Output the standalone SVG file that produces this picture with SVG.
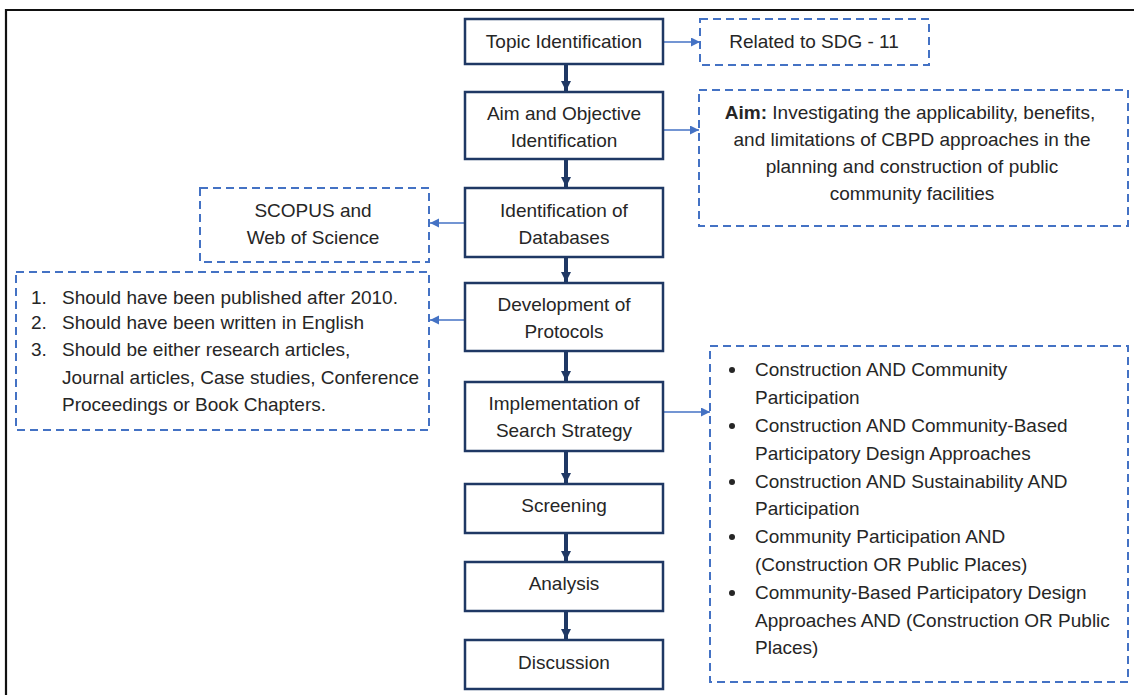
<svg xmlns="http://www.w3.org/2000/svg" width="1134" height="695" viewBox="0 0 1134 695">
<style>
.frame{fill:none;stroke:#111;stroke-width:2.2}
.main{fill:#fff;stroke:#1F3864;stroke-width:2.5}
.dash{fill:#fff;stroke:#4472C4;stroke-width:2;stroke-dasharray:8 5}
.t{font-family:"Liberation Sans",Arial,sans-serif;font-size:19px;fill:#262626}
.c{text-anchor:middle}
.thick{stroke:#1F3864;stroke-width:4;fill:none}
.thin{stroke:#4472C4;stroke-width:1.3;fill:none}
</style>
<defs>
<marker id="ah" markerUnits="userSpaceOnUse" markerWidth="12" markerHeight="10" refX="10" refY="5" orient="auto">
<path d="M0,0 L10,5 L0,10 Z" fill="#1F3864"/>
</marker>
<marker id="bh" markerUnits="userSpaceOnUse" markerWidth="10" markerHeight="10" refX="9" refY="4.5" orient="auto">
<path d="M0,0 L9,4.5 L0,9 Z" fill="#4472C4"/>
</marker>
</defs>
<rect width="1134" height="695" fill="#fff"/>
<path class="frame" d="M6,695 V10 H1134"/>

<g id="connectors">
<line class="thick" x1="566" y1="64" x2="566" y2="91" marker-end="url(#ah)"/>
<line class="thick" x1="566" y1="159" x2="566" y2="187" marker-end="url(#ah)"/>
<line class="thick" x1="566" y1="257" x2="566" y2="282" marker-end="url(#ah)"/>
<line class="thick" x1="566" y1="351" x2="566" y2="381" marker-end="url(#ah)"/>
<line class="thick" x1="566" y1="451" x2="566" y2="483" marker-end="url(#ah)"/>
<line class="thick" x1="566" y1="533" x2="566" y2="561" marker-end="url(#ah)"/>
<line class="thick" x1="566" y1="611" x2="566" y2="639" marker-end="url(#ah)"/>
<line class="thin" x1="663" y1="42" x2="700" y2="42" marker-end="url(#bh)"/>
<line class="thin" x1="663" y1="130" x2="699" y2="130" marker-end="url(#bh)"/>
<line class="thin" x1="465" y1="223" x2="430" y2="223" marker-end="url(#bh)"/>
<line class="thin" x1="465" y1="320" x2="430" y2="320" marker-end="url(#bh)"/>
<line class="thin" x1="663" y1="412" x2="710" y2="412" marker-end="url(#bh)"/>
</g>

<g id="topic">
<rect class="main" x="465" y="19" width="198" height="45"/>
<text class="t c" x="564" y="48">Topic Identification</text>
</g>
<g id="aim-obj">
<rect class="main" x="465" y="92" width="198" height="67"/>
<text class="t c" x="564" y="120">Aim and Objective</text>
<text class="t c" x="564" y="147">Identification</text>
</g>
<g id="databases">
<rect class="main" x="465" y="188" width="198" height="69"/>
<text class="t c" x="564" y="217">Identification of</text>
<text class="t c" x="564" y="244">Databases</text>
</g>
<g id="protocols">
<rect class="main" x="465" y="283" width="198" height="68"/>
<text class="t c" x="564" y="311">Development of</text>
<text class="t c" x="564" y="338">Protocols</text>
</g>
<g id="implementation">
<rect class="main" x="465" y="382" width="198" height="69"/>
<text class="t c" x="564" y="410">Implementation of</text>
<text class="t c" x="564" y="437">Search Strategy</text>
</g>
<g id="screening">
<rect class="main" x="465" y="484" width="198" height="49"/>
<text class="t c" x="564" y="512">Screening</text>
</g>
<g id="analysis">
<rect class="main" x="465" y="562" width="198" height="49"/>
<text class="t c" x="564" y="590">Analysis</text>
</g>
<g id="discussion">
<rect class="main" x="465" y="640" width="198" height="49"/>
<text class="t c" x="564" y="669">Discussion</text>
</g>

<g id="sdg">
<rect class="dash" x="700" y="19" width="229" height="46"/>
<text class="t c" x="814" y="48">Related to SDG - 11</text>
</g>
<g id="aim">
<rect class="dash" x="699" y="90" width="429" height="136"/>
<text class="t c" x="910" y="119"><tspan font-weight="bold">Aim:</tspan> Investigating the applicability, benefits,</text>
<text class="t c" x="912" y="146">and limitations of CBPD approaches in the</text>
<text class="t c" x="912" y="173">planning and construction of public</text>
<text class="t c" x="912" y="200">community facilities</text>
</g>
<g id="scopus">
<rect class="dash" x="200" y="188" width="229" height="74"/>
<text class="t c" x="313" y="217">SCOPUS and</text>
<text class="t c" x="313" y="244">Web of Science</text>
</g>
<g id="criteria">
<rect class="dash" x="16" y="272" width="413" height="158"/>
<text class="t" x="31" y="304">1.</text>
<text class="t" x="62" y="304">Should have been published after 2010.</text>
<text class="t" x="31" y="329">2.</text>
<text class="t" x="62" y="329">Should have been written in English</text>
<text class="t" x="31" y="356">3.</text>
<text class="t" x="62" y="356">Should be either research articles,</text>
<text class="t" x="62" y="384">Journal articles, Case studies, Conference</text>
<text class="t" x="62" y="411">Proceedings or Book Chapters.</text>
</g>
<g id="search-terms">
<rect class="dash" x="710" y="346" width="418" height="336"/>
<g fill="#262626">
<circle cx="732" cy="370" r="3"/>
<circle cx="732" cy="426" r="3"/>
<circle cx="732" cy="482" r="3"/>
<circle cx="732" cy="537" r="3"/>
<circle cx="732" cy="593" r="3"/>
</g>
<text class="t" x="755" y="376">Construction AND Community</text>
<text class="t" x="755" y="404">Participation</text>
<text class="t" x="755" y="432">Construction AND Community-Based</text>
<text class="t" x="755" y="460">Participatory Design Approaches</text>
<text class="t" x="755" y="488">Construction AND Sustainability AND</text>
<text class="t" x="755" y="515">Participation</text>
<text class="t" x="755" y="543">Community Participation AND</text>
<text class="t" x="755" y="571">(Construction OR Public Places)</text>
<text class="t" x="755" y="599">Community-Based Participatory Design</text>
<text class="t" x="755" y="627">Approaches AND (Construction OR Public</text>
<text class="t" x="755" y="654">Places)</text>
</g>
</svg>
